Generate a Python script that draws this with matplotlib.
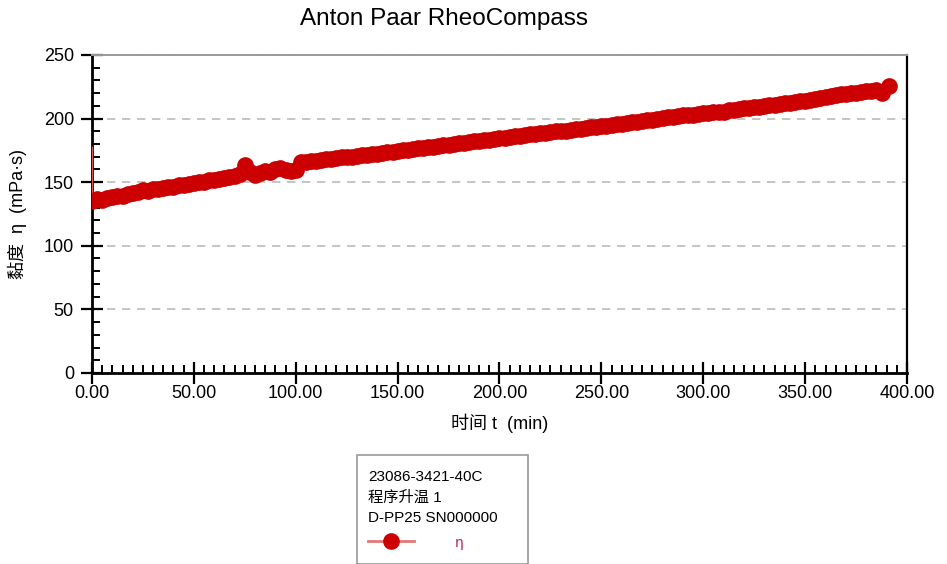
import matplotlib
matplotlib.use("Agg")
import matplotlib.pyplot as plt
from matplotlib.patches import Rectangle
from matplotlib.ticker import MultipleLocator, FormatStrFormatter

plt.rcParams['font.family'] = ['Liberation Sans', 'Noto Sans CJK SC', 'DejaVu Sans']

# measured data: time (min) / viscosity (mPa·s); first point is the start-up spike
time_min = [0.0,
            0.0, 2.5, 5.0, 7.5, 10.0, 12.5, 15.0, 17.5, 20.0, 22.5,
            25.0, 27.5, 30.0, 32.5, 35.0, 37.5, 40.0, 42.5, 45.0, 47.5,
            50.0, 52.5, 55.0, 57.5, 60.0, 62.5, 65.0, 67.5, 70.0, 72.5,
            75.0, 77.5, 80.0, 82.5, 85.0, 87.5, 90.0, 92.5, 95.0, 97.5,
            100.0, 102.5, 105.0, 107.5, 110.0, 112.5, 115.0, 117.5, 120.0, 122.5,
            125.0, 127.5, 130.0, 132.5, 135.0, 137.5, 140.0, 142.5, 145.0, 147.5,
            150.0, 152.5, 155.0, 157.5, 160.0, 162.5, 165.0, 167.5, 170.0, 172.5,
            175.0, 177.5, 180.0, 182.5, 185.0, 187.5, 190.0, 192.5, 195.0, 197.5,
            200.0, 202.5, 205.0, 207.5, 210.0, 212.5, 215.0, 217.5, 220.0, 222.5,
            225.0, 227.5, 230.0, 232.5, 235.0, 237.5, 240.0, 242.5, 245.0, 247.5,
            250.0, 252.5, 255.0, 257.5, 260.0, 262.5, 265.0, 267.5, 270.0, 272.5,
            275.0, 277.5, 280.0, 282.5, 285.0, 287.5, 290.0, 292.5, 295.0, 297.5,
            300.0, 302.5, 305.0, 307.5, 310.0, 312.5, 315.0, 317.5, 320.0, 322.5,
            325.0, 327.5, 330.0, 332.5, 335.0, 337.5, 340.0, 342.5, 345.0, 347.5,
            350.0, 352.5, 355.0, 357.5, 360.0, 362.5, 365.0, 367.5, 370.0, 372.5,
            375.0, 377.5, 380.0, 382.5, 385.0, 387.5, 391.0]
viscosity = [177,
             135, 136.5, 136, 137.5, 138, 139.5, 139, 140.5, 141.5, 142.5,
             143.5, 143, 144.5, 145, 145.5, 146.5, 146, 147.5, 148, 148.5,
             149.5, 150, 150.5, 151.5, 152, 152.5, 153.5, 154, 155, 156.5,
             163.5, 158, 156, 157, 158.5, 158, 160.5, 161.5, 159.5, 159,
             159.5, 165.5, 166, 166.5, 167, 167.5, 168, 168.5, 169, 169.5,
             170, 170, 170.5, 171, 171.5, 172, 172.5, 173, 173.5, 174,
             174.5, 175, 175.5, 176, 176.5, 177, 177.5, 178, 178.5, 179,
             179.5, 180, 180.5, 181, 181.5, 182, 182.5, 183, 183.5, 184,
             184.5, 185, 185.5, 186, 186.5, 187, 187.5, 188, 188.5, 189,
             189.5, 190, 190.5, 190.5, 191, 191.5, 192, 192.5, 193, 193.5,
             194, 194.5, 195, 195.5, 196, 196.5, 197, 197.5, 198, 198.5,
             199, 199.5, 200.5, 201, 201.5, 202, 202.5, 203, 203, 203.5,
             204, 204.5, 205, 205, 205.5, 206.5, 207, 207.5, 208, 208.5,
             209, 209.5, 210, 210.5, 211, 211.5, 212, 212.5, 213, 213.5,
             213.5, 214.5, 215.5, 216.5, 217, 218, 218.5, 219, 219.5, 220,
             220.5, 221, 221.5, 222, 222.5, 220.5, 225.5]

legend_title = "23086-3421-40C\n程序升温 1\nD-PP25 SN000000"
series_label = "η"

fig = plt.figure(figsize=(9.47, 5.64), dpi=100)
ax = fig.add_axes([0.0971, 0.3387, 0.8607, 0.5638])

# thin connecting line (shows the start spike), markers from the 2nd point on
line, = ax.plot(time_min, viscosity, color='#DD5050', lw=1.8,
                marker='o', markersize=11, markerfacecolor='#CC0000',
                markeredgecolor='#CC0000', markevery=list(range(1, len(time_min))),
                label=series_label, zorder=3)

ax.set_xlim(0, 400)
ax.set_ylim(0, 250)
ax.xaxis.set_major_locator(MultipleLocator(50))
ax.xaxis.set_minor_locator(MultipleLocator(5))
ax.yaxis.set_major_locator(MultipleLocator(50))
ax.yaxis.set_minor_locator(MultipleLocator(10))
ax.xaxis.set_major_formatter(FormatStrFormatter('%.2f'))

ax.tick_params(which='major', direction='inout', length=16, width=1.6,
               labelsize=13, colors='black')
ax.tick_params(which='minor', direction='in', length=6, width=1.4)
ax.tick_params(axis='x', which='major', pad=1)
ax.tick_params(axis='y', which='major', pad=5)

ax.grid(axis='y', which='major', color='#BBBBBB', ls=(0, (5, 4)), lw=1.2)
ax.set_axisbelow(True)

for s in ('left', 'bottom'):
    ax.spines[s].set_linewidth(2)
    ax.spines[s].set_color('black')
ax.spines['right'].set_linewidth(1.6)
ax.spines['top'].set_color('#999999')
ax.spines['top'].set_linewidth(1.4)

ax.set_xlabel("时间 t  (min)", fontsize=13, labelpad=8)
ax.set_ylabel("黏度  η  (mPa·s)", fontsize=13, labelpad=12)
fig.text(444 / 947, 1 - 19 / 564, "Anton Paar RheoCompass", fontsize=17.5,
         ha='center', va='center')

# legend box
fig.patches.append(Rectangle((357 / 947, 0), (528 - 357) / 947, 1 - 455 / 564,
                             transform=fig.transFigure, fill=False,
                             edgecolor='#999999', lw=1.2))
leg = fig.legend(handles=[line], labels=[series_label], title=legend_title,
                 loc='upper left', bbox_to_anchor=(365 / 947, 1 - 467 / 564),
                 frameon=False, fontsize=11, title_fontsize=11, alignment='left',
                 numpoints=1, handlelength=3.0, handletextpad=2.7,
                 borderpad=0.2, borderaxespad=0)
leg.get_title().set_linespacing(1.55)
leg._legend_box.sep = 8
h = leg.legend_handles[0]
h.set_color('#E07878')
h.set_linewidth(2)
h.set_markerfacecolor('#CC0000')
h.set_markeredgecolor('#CC0000')
for t in leg.get_texts():
    t.set_color('#C02050')
    t.set_family(['DejaVu Sans'])
    t.set_fontsize(10)

fig.savefig("out.png", dpi=100)
